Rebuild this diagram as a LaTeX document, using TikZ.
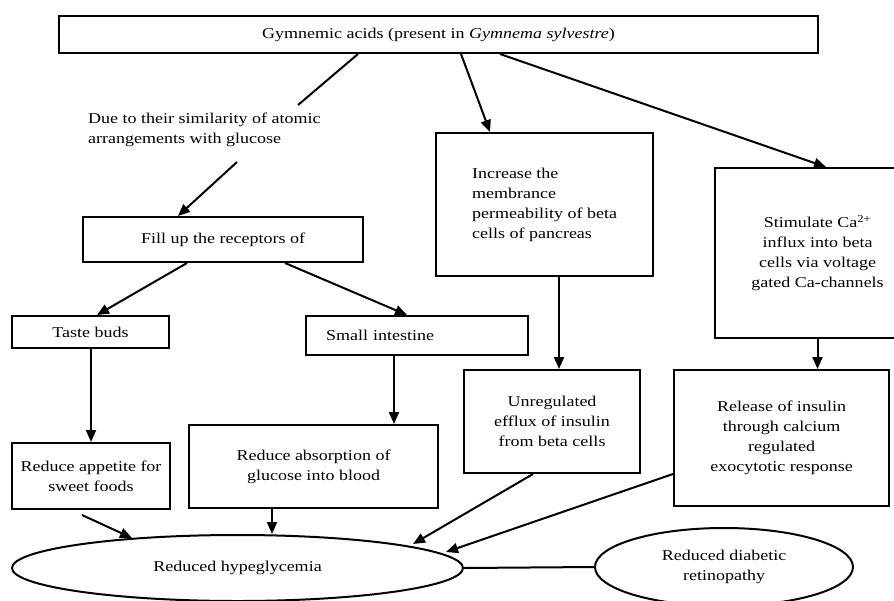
\documentclass[tikz,border=0pt]{standalone}
\usepackage{fontspec}
\setmainfont{Liberation Serif}[FakeStretch=1.2]
\usetikzlibrary{shapes.geometric,arrows.meta}
\begin{document}
\begin{tikzpicture}[x=1pt,y=-1pt,
  every node/.style={font=\fontsize{15}{20}\selectfont, inner sep=0pt},
  box/.style={draw, line width=2pt, rectangle},
  oval/.style={draw, line width=2pt, ellipse},
  arr/.style={line width=2pt, -{Triangle[length=12pt,width=10pt]}},
  ln/.style={line width=2pt}]
\useasboundingbox (0,0) rectangle (894,600);
% boxes
\node[box, minimum width=759pt, minimum height=37pt] (top) at (438.5,34.5)
  {Gymnemic acids (present in \textit{Gymnema sylvestre})};
\node[anchor=north west, align=left] (lab) at (88,113)
  {Due to their similarity of atomic\\arrangements with glucose};
\node[box, minimum width=280pt, minimum height=45pt] (fill) at (223,239.5)
  {Fill up the receptors of};
\node[box, minimum width=157pt, minimum height=32pt] (taste) at (90.5,332)
  {Taste buds};
\node[box, minimum width=222pt, minimum height=39pt, inner xsep=20pt,
  text width=182pt, align=left] (small) at (417,335.5) {Small intestine};
\node[box, minimum width=217pt, minimum height=143pt, align=left] (incr) at (544.5,204.5)
  {Increase the\\membrance\\permeability of beta\\cells of pancreas};
\node[box, minimum width=205pt, minimum height=170pt, align=center] (stim) at (817.5,253)
  {Stimulate Ca\textsuperscript{2+}\\influx into beta\\cells via voltage\\gated Ca-channels};
\node[box, minimum width=176pt, minimum height=103pt, align=center] (unreg) at (552,421.5)
  {Unregulated\\efflux of insulin\\from beta cells};
\node[box, minimum width=215pt, minimum height=136pt, align=center] (rel) at (781.5,438)
  {Release of insulin\\through calcium\\regulated\\exocytotic response};
\node[box, minimum width=158pt, minimum height=66pt, align=center] (app) at (91,476)
  {Reduce appetite for\\sweet foods};
\node[box, minimum width=249pt, minimum height=83pt, align=center] (abs) at (313.5,466.5)
  {Reduce absorption of\\glucose into blood};
\node[oval, minimum width=451pt, minimum height=66pt] (hyp) at (237.5,568)
  {Reduced hypeglycemia};
\node[oval, minimum width=258pt, minimum height=78pt, align=center] (ret) at (724,567)
  {Reduced diabetic\\retinopathy};
% connectors
\coordinate (l1) at (298,105);
\coordinate (l2) at (237,162);
\draw[ln] ([xshift=-80.5pt]top.south) -- (l1);
\draw[arr] (l2) -- ([xshift=-45pt]fill.north);
\draw[arr] ([xshift=22.5pt]top.south) -- ([xshift=-54.5pt]incr.north);
\draw[arr] ([xshift=61.5pt]top.south) -- ([xshift=8.5pt]stim.north);
\draw[arr] ([xshift=-36pt]fill.south) -- ([xshift=6.5pt]taste.north);
\draw[arr] ([xshift=62pt]fill.south) -- ([xshift=-10pt]small.north);
\draw[arr] (taste.south -| app.north) -- (app.north);
\draw[arr] ([xshift=-23pt]small.south) -- ([xshift=-23pt]small.south |- abs.north);
\draw[arr] ([xshift=14.5pt]incr.south) -- ([xshift=14.5pt]incr.south |- unreg.north);
\draw[arr] (stim.south) -- (stim.south |- rel.north);
\draw[arr] ([xshift=-9pt,yshift=-5pt]app.south) -- ([xshift=-105.5pt,yshift=-4pt]hyp.north);
\draw[arr] ([xshift=-41.5pt]abs.south) -- ([xshift=-41.5pt]abs.south |- hyp.north);
\draw[arr] ([xshift=-19pt]unreg.south) -- ([xshift=175.5pt,yshift=-10pt]hyp.north);
\draw[arr] ([yshift=-36pt]rel.west) -- ([xshift=208.5pt,yshift=-18pt]hyp.north);
\draw[ln] (hyp.east) -- (ret.west);
\end{tikzpicture}
\end{document}
